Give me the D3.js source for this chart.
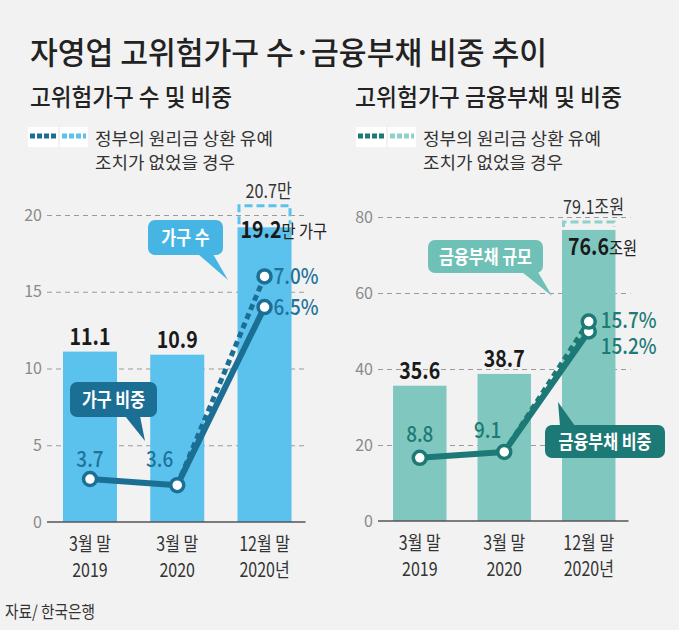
<!DOCTYPE html>
<html><head><meta charset="utf-8">
<script src="https://cdn.jsdelivr.net/npm/d3@7"></script>
<style>html,body{margin:0;padding:0;background:#f2f2f2;}svg{display:block;}</style>
</head><body>
<svg id="c" width="679" height="630"></svg>
<script>
// ---- data ----
const periodTop = ["3월 말", "3월 말", "12월 말"];
const periodBottom = ["2019", "2020", "2020년"];
const households = [11.1, 10.9, 19.2];          // 만 가구
const householdsNoDeferral = 20.7;
const householdShare = [3.7, 3.6, 6.5];          // %
const householdShareNoDeferral = 7.0;
const debt = [35.6, 38.7, 76.6];                 // 조원
const debtNoDeferral = 79.1;
const debtShare = [8.8, 9.1, 15.2];              // %
const debtShareNoDeferral = 15.7;
const leftTicks = [0, 5, 10, 15, 20];
const rightTicks = [0, 20, 40, 60, 80];

const FONT = "'Noto Sans CJK KR','Noto Sans',sans-serif";
const svg = d3.select("#c").style("font-family", FONT);
svg.append("rect").attr("width", 679).attr("height", 630).attr("fill", "#f2f2f2");

function condense(sel, k) {
  sel.each(function () {
    const l = this.getComputedTextLength();
    this.setAttribute("textLength", l * k);
    this.setAttribute("lengthAdjust", "spacingAndGlyphs");
  });
  return sel;
}
function fitTo(sel, w) {
  sel.attr("textLength", w).attr("lengthAdjust", "spacingAndGlyphs");
  return sel;
}

// ---- titles ----
fitTo(svg.append("text").attr("x", 30).attr("y", 64).attr("font-size", 31).attr("font-weight", 500)
  .attr("fill", "#222").text("자영업 고위험가구 수·금융부채 비중 추이"), 517);
fitTo(svg.append("text").attr("x", 30).attr("y", 106).attr("font-size", 24).attr("font-weight", 500)
  .attr("fill", "#222").text("고위험가구 수 및 비중"), 202);
fitTo(svg.append("text").attr("x", 355).attr("y", 106).attr("font-size", 24).attr("font-weight", 500)
  .attr("fill", "#222").text("고위험가구 금융부채 및 비중"), 267);

// source
fitTo(svg.append("text").attr("x", 5).attr("y", 618).attr("font-size", 17).attr("fill", "#333")
  .text("자료/ 한국은행"), 90);

// ---- legend ----
function legend(x, dark, light) {
  const g = svg.append("g");
  g.append("rect").attr("x", x).attr("y", 127).attr("width", 30).attr("height", 20).attr("fill", "#fff");
  g.append("rect").attr("x", x + 32).attr("y", 127).attr("width", 28).attr("height", 20).attr("fill", "#fff");
  g.append("line").attr("x1", x + 2).attr("x2", x + 28).attr("y1", 136).attr("y2", 136)
    .attr("stroke", dark).attr("stroke-width", 5).attr("stroke-dasharray", "5,2");
  g.append("line").attr("x1", x + 34).attr("x2", x + 58).attr("y1", 136).attr("y2", 136)
    .attr("stroke", light).attr("stroke-width", 5).attr("stroke-dasharray", "5,2");
  fitTo(g.append("text").attr("x", x + 67).attr("y", 145).attr("font-size", 17).attr("fill", "#333")
    .text("정부의 원리금 상환 유예"), 178);
  fitTo(g.append("text").attr("x", x + 67).attr("y", 169).attr("font-size", 17).attr("fill", "#333")
    .text("조치가 없었을 경우"), 140);
}
legend(28, "#1b6f94", "#5bc2ee");
legend(356, "#1c7976", "#8fd1c8");

// ---- panel ----
function panel(cfg) {
  const g = svg.append("g");
  const x = d3.scaleBand().domain(d3.range(3)).range([cfg.x0, cfg.x1])
    .paddingInner(cfg.pi).paddingOuter(cfg.po);
  const y = d3.scaleLinear().domain([0, cfg.yMax]).range([cfg.yBase, cfg.yTop]);
  const y2 = d3.scaleLinear().domain(cfg.y2Domain).range([cfg.yBase, cfg.yTop]);
  const cx = i => x(i) + x.bandwidth() / 2;

  // grid + y labels
  const ax = g.append("g").attr("transform", `translate(${cfg.x0},0)`)
    .call(d3.axisLeft(y).tickValues(cfg.ticks).tickSize(-(cfg.x1 - cfg.x0)).tickPadding(5));
  ax.select(".domain").remove();
  ax.selectAll(".tick line").attr("stroke", "#9a9a9a").attr("stroke-dasharray", "5,4")
    .attr("stroke-width", 1).filter(d => d === 0).remove();
  ax.selectAll(".tick text").attr("fill", "#8a8a8a").attr("font-size", 16)
    .attr("font-family", FONT);

  // no-deferral dashed box
  const bx = x(2), bw = x.bandwidth();
  g.append("path")
    .attr("d", `M${bx + 1.5},${y(cfg.values[2]) - 3}V${y(cfg.alt) + 1.5}H${bx + bw - 1.5}V${y(cfg.values[2]) - 3}`)
    .attr("fill", "none").attr("stroke", cfg.boxDash).attr("stroke-width", 3)
    .attr("stroke-dasharray", "8,4");

  // bars
  g.selectAll("rect.bar").data(cfg.values).join("rect").attr("class", "bar")
    .attr("x", (d, i) => x(i)).attr("y", d => y(d)).attr("width", bw)
    .attr("height", d => cfg.yBase - y(d)).attr("fill", cfg.barColor);

  // baseline
  g.append("line").attr("x1", cfg.x0).attr("x2", cfg.x1 - 2).attr("y1", cfg.yBase).attr("y2", cfg.yBase)
    .attr("stroke", "#555").attr("stroke-width", 1.5);

  // x labels
  const xa = g.append("g").attr("transform", `translate(0,${cfg.yBase})`)
    .call(d3.axisBottom(x).tickSize(0).tickFormat(() => ""));
  xa.select(".domain").remove();
  xa.selectAll(".tick").each(function (d) {
    const t = d3.select(this);
    const a = t.append("text").attr("y", 29).attr("text-anchor", "middle").attr("fill", "#333")
      .attr("font-size", 19.5).attr("font-family", FONT).text(periodTop[d]);
    condense(a, 0.82);
    const b = t.append("text").attr("y", 55).attr("text-anchor", "middle").attr("fill", "#333")
      .attr("font-size", 19.5).attr("font-family", FONT).text(periodBottom[d]);
    condense(b, 0.82);
  });

  // bar value labels (first two)
  cfg.values.slice(0, 2).forEach((v, i) => {
    condense(g.append("text").attr("x", cx(i)).attr("y", y(v) - 7).attr("text-anchor", "middle")
      .attr("font-size", 23).attr("font-weight", 700).attr("fill", "#1a1a1a").text(v.toFixed(1)), 0.85);
  });
  // third bar label
  const t3 = g.append("text").attr("x", bx + cfg.v3dx).attr("y", y(cfg.values[2]) + cfg.v3dy).attr("fill", "#1a1a1a");
  t3.append("tspan").attr("font-size", 23).attr("font-weight", 700).text(cfg.values[2].toFixed(1));
  t3.append("tspan").attr("font-size", 18).attr("fill", "#222").text(cfg.unit3);
  condense(t3, 0.85);
  // alt label
  const ta = g.append("text").attr("x", bx + cfg.altdx).attr("y", y(cfg.alt) - 6).attr("fill", "#333")
    .attr("font-size", 19).text(cfg.alt.toFixed(1) + cfg.altUnit);
  condense(ta, 0.85);

  // percent lines
  const p = cfg.share.map((v, i) => [cx(i), y2(v)]);
  const pAlt = [cx(2), y2(cfg.shareAlt)];
  g.append("path").attr("d", d3.line()([p[1], pAlt])).attr("fill", "none")
    .attr("stroke", cfg.dark).attr("stroke-width", 5).attr("stroke-dasharray", "6,4");
  g.append("path").attr("d", d3.line()(p)).attr("fill", "none")
    .attr("stroke", cfg.dark).attr("stroke-width", 6).attr("stroke-linejoin", "round");
  g.selectAll("circle.pt").data([...p, pAlt]).join("circle").attr("class", "pt")
    .attr("cx", d => d[0]).attr("cy", d => d[1]).attr("r", 6.5)
    .attr("fill", "#fff").attr("stroke", cfg.dark).attr("stroke-width", 3.5);

  // percent labels
  cfg.shareLabels(g, p, pAlt);
  return { x, y, y2, g };
}

function pctText(g, x, y, txt, color, anchor) {
  return condense(g.append("text").attr("x", x).attr("y", y).attr("text-anchor", anchor || "start")
    .attr("font-size", 22).attr("font-weight", 500).attr("fill", color).text(txt), 0.86);
}

function callout(g, c) {
  g.append("rect").attr("x", c.x).attr("y", c.y).attr("width", c.w).attr("height", c.h)
    .attr("rx", 7).attr("fill", c.fill);
  g.append("path").attr("d", d3.line()(c.tail) + "Z").attr("fill", c.fill);
  condense(g.append("text").attr("x", c.x + c.w / 2).attr("y", c.y + c.h / 2 + 7)
    .attr("text-anchor", "middle").attr("font-size", 19).attr("font-weight", 700)
    .attr("fill", "#fff").text(c.text), 0.85);
}

const L = panel({
  x0: 47, x1: 307.5, pi: 0.381, po: 0.183, yBase: 522, yTop: 215, yMax: 20, ticks: leftTicks,
  y2Domain: [3, 8], values: households, alt: householdsNoDeferral,
  share: householdShare, shareAlt: householdShareNoDeferral,
  barColor: "#5bc2ee", boxDash: "#5bc2ee", dark: "#1b6f94",
  v3dx: 3, v3dy: 11, unit3: "만 가구", altdx: 8, altUnit: "만",
  shareLabels: (g, p, pa) => {
    const c = "#1f739b";
    pctText(g, p[0][0], p[0][1] - 12, householdShare[0].toFixed(1), c, "middle");
    pctText(g, p[1][0] - 4, p[1][1] - 18, householdShare[1].toFixed(1), c, "end");
    pctText(g, p[2][0] + 9, p[2][1] + 8, householdShare[2].toFixed(1) + "%", c);
    pctText(g, pa[0] + 9, pa[1] + 8, householdShareNoDeferral.toFixed(1) + "%", c);
  }
});
const R = panel({
  x0: 378, x1: 630.5, pi: 0.367, po: 0.178, yBase: 521, yTop: 217, yMax: 80, ticks: rightTicks,
  y2Domain: [5.6, 21], values: debt, alt: debtNoDeferral,
  share: debtShare, shareAlt: debtShareNoDeferral,
  barColor: "#80c8bf", boxDash: "#8fd1c8", dark: "#1c7976",
  v3dx: 6, v3dy: 25, unit3: "조원", altdx: 1, altUnit: "조원",
  shareLabels: (g, p, pa) => {
    const c = "#1d7a75";
    pctText(g, p[0][0], p[0][1] - 16, debtShare[0].toFixed(1), c, "middle");
    pctText(g, p[1][0] - 3, p[1][1] - 14, debtShare[1].toFixed(1), c, "end");
    pctText(g, p[2][0] + 12, p[2][1] + 23, debtShare[2].toFixed(1) + "%", c);
    pctText(g, pa[0] + 12, pa[1] + 6, debtShareNoDeferral.toFixed(1) + "%", c);
  }
});

// callouts
callout(L.g, { x: 148, y: 220, w: 75, h: 35, fill: "#47b5e4", text: "가구 수",
  tail: [[198, 254], [213, 254], [228, 280]] });
callout(L.g, { x: 70, y: 382, w: 87, h: 35, fill: "#1b6f94", text: "가구 비중",
  tail: [[125, 416], [140, 416], [145, 441]] });
callout(R.g, { x: 428, y: 240, w: 115, h: 33, fill: "#6fc0b6", text: "금융부채 규모",
  tail: [[522, 272], [538, 272], [552, 296]] });
callout(R.g, { x: 545, y: 425, w: 120, h: 33, fill: "#1c7976", text: "금융부채 비중",
  tail: [[560, 426], [575, 426], [558, 402]] });
</script>
</body></html>
